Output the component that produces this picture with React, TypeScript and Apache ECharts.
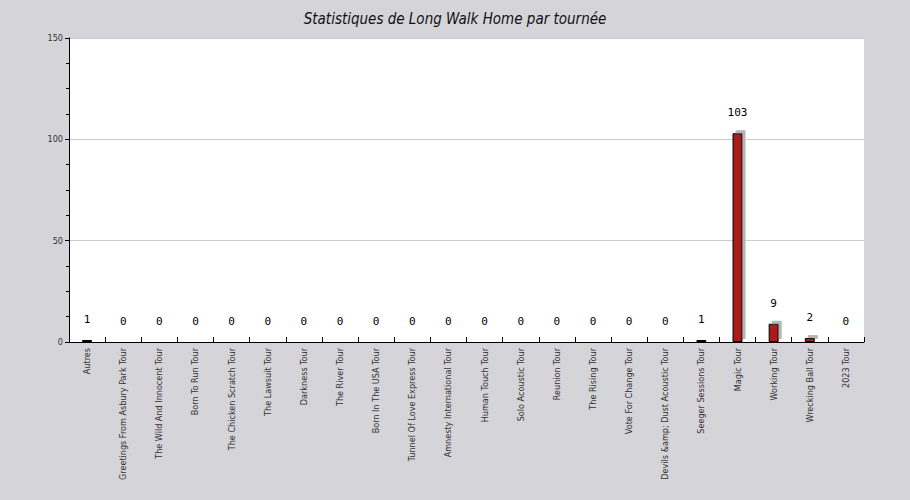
import * as echarts from "echarts"
import { useEffect, useRef } from "react"

const title = "Statistiques de Long Walk Home par tournée"

const tours = [
  "Autres",
  "Greetings From Asbury Park Tour",
  "The Wild And Innocent Tour",
  "Born To Run Tour",
  "The Chicken Scratch Tour",
  "The Lawsuit Tour",
  "Darkness Tour",
  "The River Tour",
  "Born In The USA Tour",
  "Tunnel Of Love Express Tour",
  "Amnesty International Tour",
  "Human Touch Tour",
  "Solo Acoustic Tour",
  "Reunion Tour",
  "The Rising Tour",
  "Vote For Change Tour",
  "Devils &amp; Dust Acoustic Tour",
  "Seeger Sessions Tour",
  "Magic Tour",
  "Working Tour",
  "Wrecking Ball Tour",
  "2023 Tour",
]

const plays = [1, 0, 0, 0, 0, 0, 0, 0, 0, 0, 0, 0, 0, 0, 0, 0, 0, 1, 103, 9, 2, 0]

const narrow = '"Liberation Sans Narrow", "DejaVu Sans Condensed", sans-serif'

export default function App(): React.ReactElement {
  const ref = useRef<HTMLDivElement>(null)

  useEffect(() => {
    const node = ref.current
    if (!node) return
    document.body.style.margin = "0"
    const chart = echarts.init(node, undefined, { renderer: "svg" })

    chart.setOption({
      animation: false,
      backgroundColor: "#d5d4d9",
      title: {
        text: title,
        left: "center",
        top: 6,
        textStyle: {
          fontFamily: narrow,
          fontStyle: "italic",
          fontWeight: "normal",
          fontSize: 15,
          color: "#111",
        },
      },
      grid: {
        left: 69,
        right: 46,
        top: 38,
        bottom: 158,
        show: true,
        backgroundColor: "#fff",
        borderWidth: 0,
      },
      xAxis: {
        type: "category",
        data: tours,
        axisLine: { lineStyle: { color: "#000", width: 1 } },
        axisTick: {
          show: true,
          inside: true,
          length: 5,
          alignWithLabel: false,
          lineStyle: { color: "#000" },
        },
        axisLabel: {
          rotate: 90,
          interval: 0,
          margin: 6,
          fontSize: 9,
          fontFamily: narrow,
          color: "#333",
        },
        splitLine: { show: false },
      },
      yAxis: {
        type: "value",
        min: 0,
        max: 150,
        interval: 50,
        axisLine: { show: true, lineStyle: { color: "#000", width: 1 } },
        axisTick: { show: true, length: 4, lineStyle: { color: "#000" } },
        minorTick: { show: true, splitNumber: 4, length: 3, lineStyle: { color: "#000" } },
        axisLabel: {
          margin: 6,
          fontSize: 9,
          fontFamily: narrow,
          color: "#333",
        },
        splitLine: { show: true, lineStyle: { color: "#ccc", width: 1 } },
      },
      series: [
        {
          type: "bar",
          data: plays,
          barWidth: 10,
          itemStyle: {
            color: "#a81a1a",
            borderColor: "#000",
            borderWidth: 1,
            shadowColor: "#b5b5b5",
            shadowBlur: 0,
            shadowOffsetX: 3,
            shadowOffsetY: -3,
          },
          label: {
            show: true,
            position: "top",
            distance: 15,
            fontFamily: '"DejaVu Sans Mono", monospace',
            fontSize: 11,
            color: "#000",
          },
        },
      ],
    })

    return () => chart.dispose()
  }, [])

  return <div ref={ref} style={{ width: 910, height: 500 }} />
}
